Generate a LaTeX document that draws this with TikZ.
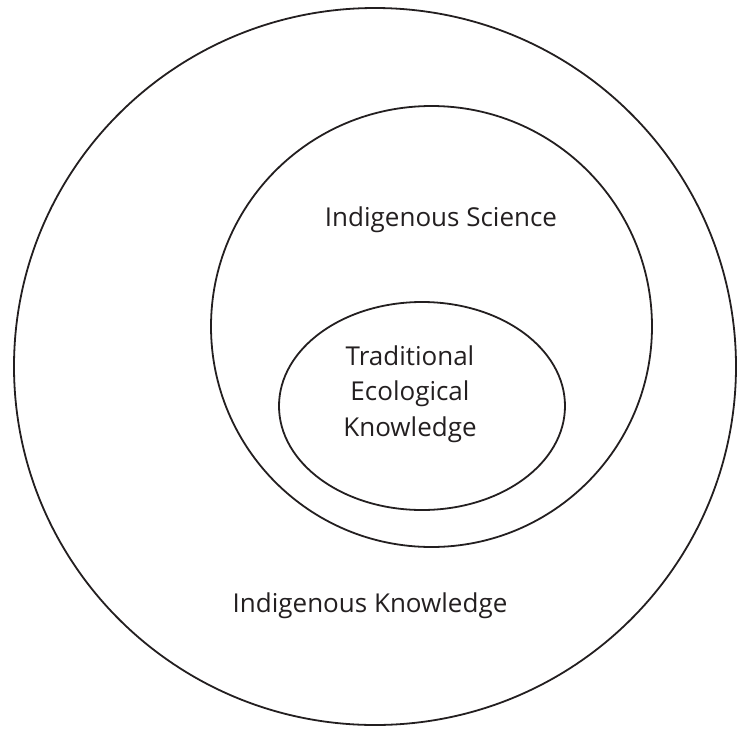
\documentclass[tikz,border=0pt]{standalone}
\usepackage{fontspec}
\setmainfont{Open Sans}
\usetikzlibrary{shapes.geometric}
\definecolor{clrInk}{HTML}{231F20}
\tikzset{
  ring/.style={ellipse, draw=clrInk, line width=1.8pt, inner sep=0pt},
  label text/.style={text=clrInk, font=\fontsize{26}{35.5}\selectfont, align=center},
}
\begin{document}
\begin{tikzpicture}[x=1pt, y=-1pt]
  \useasboundingbox (0,0) rectangle (748,732);
  % Rings
  \node[ring, minimum width=722pt, minimum height=717pt] (outer) at (375,366.5) {};
  \node[ring, minimum width=441pt, minimum height=441pt] (middle) at (431.5,326.5) {};
  \node[ring, minimum width=286pt, minimum height=208pt] (inner) at (422,406) {};

  % Labels
  \node[label text] (sci) at (441,220) {Indigenous Science};
  \node[label text] (tek) at (410,394) {Traditional\\Ecological\\Knowledge};
  \node[label text] (ik) at (370,606) {Indigenous Knowledge};
\end{tikzpicture}
\end{document}
